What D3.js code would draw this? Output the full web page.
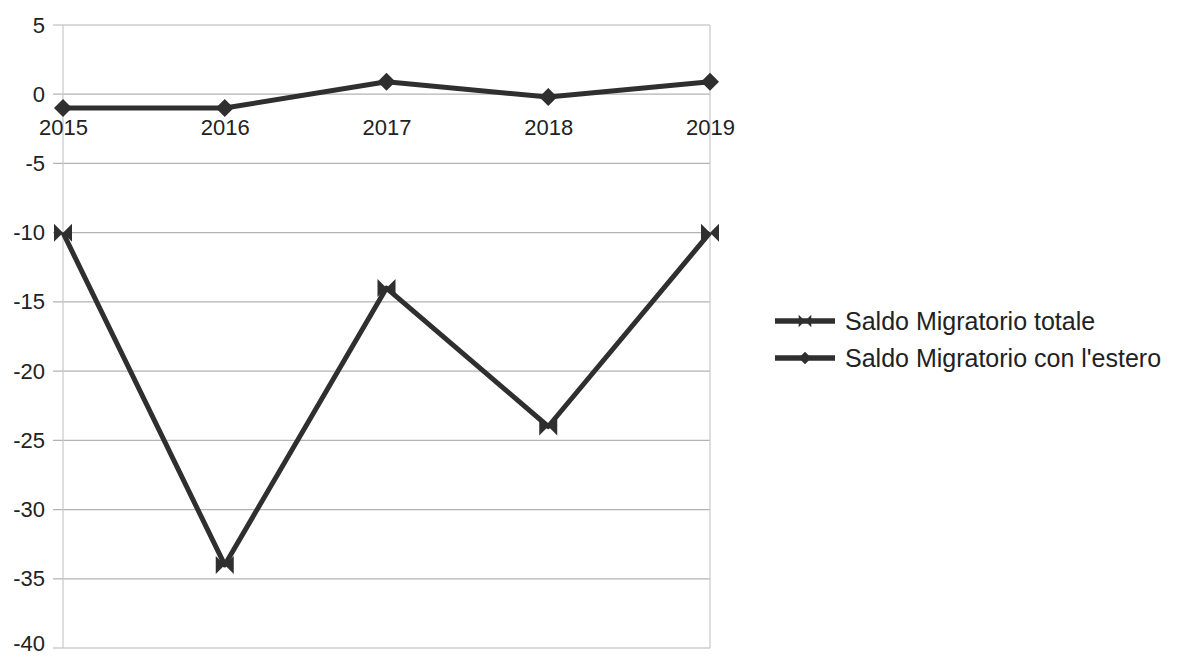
<!DOCTYPE html>
<html>
<head>
<meta charset="utf-8">
<script src="https://cdn.jsdelivr.net/npm/d3@7"></script>
<style>
  html, body { margin: 0; padding: 0; background: #fff; }
  svg { display: block; font-family: "Liberation Sans", Arial, sans-serif; }
</style>
</head>
<body>
<svg id="chart" width="1177" height="658"></svg>
<script>
// Saldo migratorio per anno
const years = ["2015", "2016", "2017", "2018", "2019"];
const saldoTotale = [-10, -34, -14, -24, -10];
const saldoEstero = [-1, -1, 0.9, -0.2, 0.9];
const yTicks = [5, 0, -5, -10, -15, -20, -25, -30, -35, -40];
const seriesNames = ["Saldo Migratorio totale", "Saldo Migratorio con l'estero"];

const svg = d3.select("#chart");
const margin = { left: 63, right: 467, top: 25, bottom: 10 };
const W = 1177, H = 658;
const lineColor = "#2f2f2f";
const textColor = "#222";

const x = d3.scalePoint().domain(years).range([margin.left, W - margin.right]).padding(0);
const y = d3.scaleLinear().domain([-40, 5]).range([H - margin.bottom, margin.top]);

// horizontal gridlines
svg.append("g")
  .selectAll("line")
  .data(yTicks)
  .join("line")
  .attr("x1", margin.left - 10)
  .attr("x2", W - margin.right)
  .attr("y1", d => y(d))
  .attr("y2", d => y(d))
  .attr("stroke", "#b3b3b3")
  .attr("stroke-width", 1.2);

// vertical frame lines
[margin.left, W - margin.right].forEach(px => {
  svg.append("line")
    .attr("x1", px).attr("x2", px)
    .attr("y1", y(5)).attr("y2", y(-40))
    .attr("stroke", "#c8c8c8").attr("stroke-width", 1.2);
});

// y axis labels
const yAxis = d3.axisLeft(y).tickValues(yTicks).tickSize(0).tickPadding(18).tickFormat(d3.format("d"));
const gy = svg.append("g").attr("transform", `translate(${margin.left},0)`).call(yAxis);
gy.select(".domain").remove();
gy.selectAll("text")
  .attr("font-size", 22)
  .attr("fill", textColor)
  .attr("font-family", "Liberation Sans, Arial, sans-serif")
  .text(d => d < 0 ? "-" + Math.abs(d) : d);
// keep the lowest label inside the canvas
gy.selectAll("text").filter(d => d === -40).attr("y", -5);

// x axis labels placed along the zero line
const xAxis = d3.axisBottom(x).tickSize(0).tickPadding(25);
const gx = svg.append("g").attr("transform", `translate(0,${y(0)})`).call(xAxis);
gx.select(".domain").remove();
gx.selectAll("text")
  .attr("font-size", 22)
  .attr("fill", textColor)
  .attr("font-family", "Liberation Sans, Arial, sans-serif");

const line = d3.line().x((d, i) => x(years[i])).y(d => y(d));

const bowtie = "M-9,-9 L9,9 L9,-9 L-9,9 Z";
const diamond = "M0,-9 L9,0 L0,9 L-9,0 Z";

function drawSeries(values, shape) {
  svg.append("path")
    .datum(values)
    .attr("d", line)
    .attr("fill", "none")
    .attr("stroke", lineColor)
    .attr("stroke-width", 5)
    .attr("stroke-linejoin", "round");
  svg.append("g")
    .selectAll("path")
    .data(values)
    .join("path")
    .attr("transform", (d, i) => `translate(${x(years[i])},${y(d)})`)
    .attr("d", shape)
    .attr("fill", lineColor);
}

drawSeries(saldoTotale, bowtie);
drawSeries(saldoEstero, diamond);

// legend
const legend = svg.append("g");
const shapes = [bowtie, diamond];
seriesNames.forEach((name, i) => {
  const ly = 321 + i * 37;
  legend.append("line")
    .attr("x1", 775).attr("x2", 835)
    .attr("y1", ly).attr("y2", ly)
    .attr("stroke", lineColor).attr("stroke-width", 5.5);
  legend.append("path")
    .attr("transform", `translate(805,${ly}) scale(0.7)`)
    .attr("d", shapes[i])
    .attr("fill", lineColor);
  legend.append("text")
    .attr("x", 845).attr("y", ly)
    .attr("dy", "0.35em")
    .attr("font-size", 25)
    .attr("fill", textColor)
    .text(name);
});
</script>
</body>
</html>
